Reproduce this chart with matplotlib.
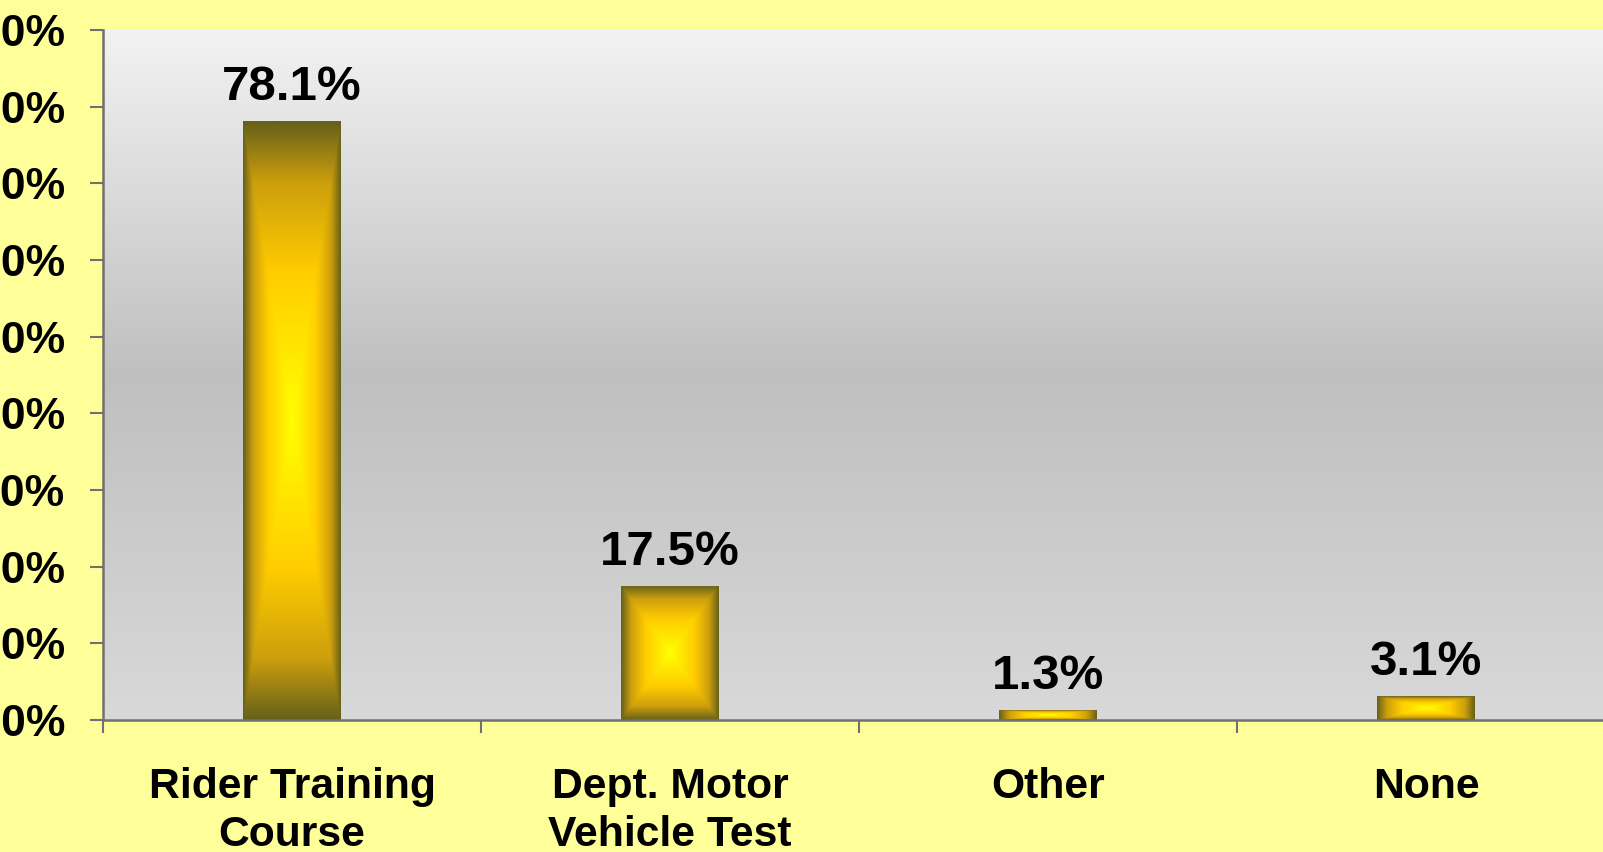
import numpy as np
import matplotlib
matplotlib.use("Agg")
import matplotlib.pyplot as plt
from matplotlib.colors import LinearSegmentedColormap
from matplotlib.ticker import FixedLocator, FuncFormatter

categories = ["Rider Training\nCourse", "Dept. Motor\nVehicle Test", "Other", "None"]
values = [78.1, 17.5, 1.3, 3.1]
value_labels = ["78.1%", "17.5%", "1.3%", "3.1%"]
y_ticks = [0, 10, 20, 30, 40, 50, 60, 70, 80, 90]

plt.rcParams['font.family'] = ['Liberation Sans', 'DejaVu Sans']
plt.rcParams['font.weight'] = 'bold'

W, H = 1603, 852
fig = plt.figure(figsize=(W / 100, H / 100), dpi=100)
fig.patch.set_facecolor('#FFFF99')
ax = fig.add_axes([103 / W, (H - 720) / H, (1615 - 103) / W, 690 / H])

# plot-area vertical gradient background
bg_cmap = LinearSegmentedColormap.from_list(
    'bg', [(0.0, (0.85, 0.85, 0.85)), (0.5, (0.75, 0.75, 0.75)), (1.0, (0.95, 0.95, 0.95))])
grad = np.linspace(0, 1, 256).reshape(-1, 1)
ax.imshow(grad, extent=(0, 1, 0, 1), transform=ax.transAxes, origin='lower',
          cmap=bg_cmap, aspect='auto', zorder=0, interpolation='bicubic')

x = np.arange(len(categories))
bars = ax.bar(x, values, width=0.257, color='none', edgecolor='none', zorder=2)

bar_cmap = LinearSegmentedColormap.from_list(
    'bar', [(0.0, (1.0, 1.0, 0.0)), (0.5, (1.0, 0.80, 0.0)),
            (0.8, (0.80, 0.62, 0.05)), (1.0, (0.40, 0.38, 0.10))])
n = 300
u = np.linspace(-1, 1, n)
U, V = np.meshgrid(u, u)
field = np.maximum(np.abs(U), np.abs(V))
for b in bars:
    x0, w, h = b.get_x(), b.get_width(), b.get_height()
    im = ax.imshow(field, extent=(x0, x0 + w, 0, h), origin='lower', cmap=bar_cmap,
                   vmin=0, vmax=1, aspect='auto', zorder=3, interpolation='bilinear')
    im.set_clip_path(b)

for xi, v, lab in zip(x, values, value_labels):
    ax.annotate(lab, (xi, v), xytext=(0, 8), textcoords='offset points',
                ha='center', va='bottom', fontsize=35.5, fontweight='bold', color='black')

ax.set_xlim(-0.5, len(categories) - 0.5)
ax.set_ylim(0, 90)

ax.set_yticks(y_ticks)
ax.yaxis.set_major_formatter(FuncFormatter(lambda v, p: f"{v:.1f}%"))
ax.tick_params(axis='y', length=9.5, width=1.5, color='#707070', pad=17.5, labelsize=32)

ax.set_xticks(x)
ax.set_xticklabels(categories, linespacing=1.25)
ax.xaxis.set_minor_locator(FixedLocator(np.arange(len(categories) + 1) - 0.5))
ax.tick_params(axis='x', which='major', length=0, pad=34, labelsize=30.7)
ax.tick_params(axis='x', which='minor', length=9.5, width=1.5, color='#707070')
for lbl in ax.get_xticklabels() + ax.get_yticklabels():
    lbl.set_fontweight('bold')

for s in ['top', 'right']:
    ax.spines[s].set_visible(False)
for s in ['left', 'bottom']:
    ax.spines[s].set_color('#707070')
    ax.spines[s].set_linewidth(1.8)
    ax.spines[s].set_zorder(5)

fig.savefig('out.png', dpi=100, facecolor=fig.get_facecolor())
